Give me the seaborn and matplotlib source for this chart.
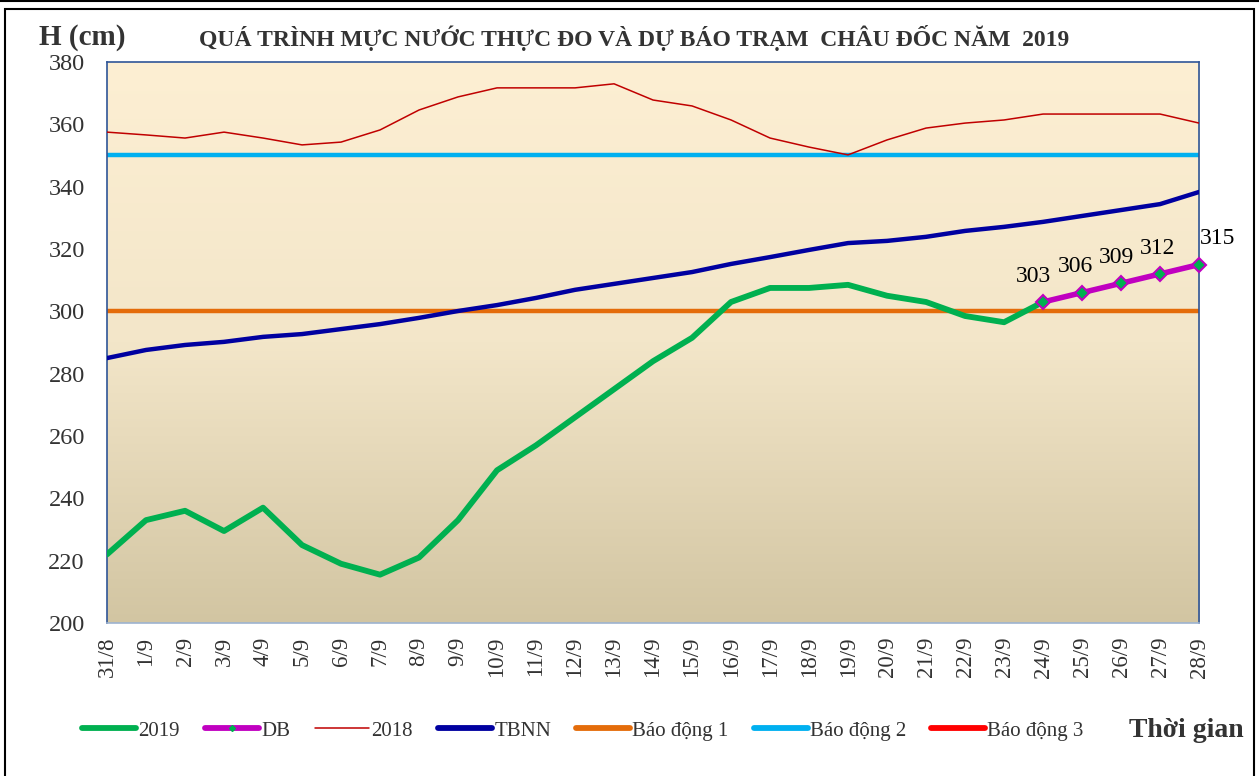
import numpy as np
import pandas as pd
import matplotlib
matplotlib.use('Agg')
import matplotlib.pyplot as plt
from matplotlib.colors import LinearSegmentedColormap
from matplotlib.patches import Rectangle
from matplotlib.lines import Line2D
import seaborn as sns

# data
dates = ['31/8', '1/9', '2/9', '3/9', '4/9', '5/9', '6/9', '7/9', '8/9', '9/9',
         '10/9', '11/9', '12/9', '13/9', '14/9', '15/9', '16/9', '17/9', '18/9', '19/9',
         '20/9', '21/9', '22/9', '23/9', '24/9', '25/9', '26/9', '27/9', '28/9']

h2019 = [222, 233, 236, 229.5, 237, 225, 219, 215.5, 221, 233,
         249, 257, 266, 275, 284, 291.5, 303, 307.5, 307.5, 308.5,
         305, 303, 298.5, 296.5, 303]

h_db = [303, 306, 309, 312, 315]
db_start = 24

h2018 = [357.5, 356.6, 355.6, 357.5, 355.6, 353.4, 354.3, 358.2, 364.6, 368.8,
         371.7, 371.7, 371.7, 373, 367.8, 365.9, 361.4, 355.6, 352.7, 350.2,
         355, 358.8, 360.4, 361.4, 363.3, 363.3, 363.3, 363.3, 360.4]

tbnn = [285, 287.6, 289.2, 290.2, 291.8, 292.7, 294.3, 295.9, 297.9, 300.1,
        302, 304.3, 306.9, 308.8, 310.7, 312.6, 315.2, 317.4, 319.7, 321.9,
        322.6, 323.9, 325.8, 327.1, 328.7, 330.6, 332.5, 334.4, 338.3]

alarm_levels = [300, 350, 400]
alarm_names = ['Báo động 1', 'Báo động 2', 'Báo động 3']

y_ticks = [200, 220, 240, 260, 280, 300, 320, 340, 360, 380]

# colors
c2019 = '#00B050'
c_db = '#C000C0'
c2018 = '#C00000'
c_tbnn = '#0000A0'
c_alarm = ['#E46C0A', '#00B0F0', '#FF0000']
text_col = '#333333'

sns.set_style('white')
plt.rcParams['font.family'] = ['Liberation Serif', 'DejaVu Serif']

fig = plt.figure(figsize=(12.59, 7.76), dpi=100)
ax = fig.add_axes([0.085, 0.1972, 0.8674, 0.7229])

n = len(dates)
x_all = np.arange(n)

# gradient background
grad = LinearSegmentedColormap.from_list('bg', ['#FDEFD3', '#F3E6C9', '#D2C5A2'])
ax.imshow(np.linspace(0, 1, 256).reshape(-1, 1), extent=[0, n - 1, 200, 380],
          aspect='auto', cmap=grad, zorder=0)

# alarm lines
for lvl, col in zip(alarm_levels, c_alarm):
    sns.lineplot(x=x_all, y=[lvl] * n, ax=ax, color=col, linewidth=3.2, zorder=2)

sns.lineplot(x=x_all, y=h2018, ax=ax, color=c2018, linewidth=1.1, zorder=3)
sns.lineplot(x=x_all, y=tbnn, ax=ax, color=c_tbnn, linewidth=3.2, zorder=3,
             solid_joinstyle='round')
sns.lineplot(x=x_all[:len(h2019)], y=h2019, ax=ax, color=c2019, linewidth=4.2,
             zorder=4, solid_joinstyle='round')
x_db = x_all[db_start:db_start + len(h_db)]
sns.lineplot(x=x_db, y=h_db, ax=ax, color=c_db, linewidth=4.0, zorder=5,
             marker='D', markersize=7, markerfacecolor=c2019,
             markeredgecolor=c_db, markeredgewidth=1.5, clip_on=False)

label_dx = [-7, -5, -3, -2, 13]
for xi, v, dx in zip(x_db, h_db, label_dx):
    ax.annotate(f"{v:d}", (xi, v), textcoords='offset points', xytext=(dx, 11),
                ha='center', va='bottom', fontsize=17, color='black')

ax.set_xlim(0, n - 1)
ax.set_ylim(200, 380)
ax.set_yticks(y_ticks)
ax.set_yticklabels([str(t) for t in y_ticks], fontsize=17.5, color=text_col)
ax.set_xticks(x_all)
ax.set_xticklabels(dates, rotation=90, fontsize=16.5, color=text_col)
ax.tick_params(axis='both', length=0)
ax.tick_params(axis='x', pad=10)
ax.tick_params(axis='y', pad=16)
ax.set_xlabel('')
ax.set_ylabel('')

for side in ['left', 'right', 'top']:
    ax.spines[side].set_color('#2F5597')
    ax.spines[side].set_linewidth(1.2)
ax.spines['bottom'].set_color('#9DB3D0')
ax.spines['bottom'].set_linewidth(1.2)

# titles
fig.text(0.031, 0.952, 'H (cm)', fontsize=21, fontweight='bold', color=text_col,
         va='center')
fig.text(0.504, 0.951, 'QUÁ TRÌNH MỰC NƯỚC THỰC ĐO VÀ DỰ BÁO TRẠM  CHÂU ĐỐC NĂM  2019',
         fontsize=17, fontweight='bold', color=text_col, ha='center', va='center')
fig.text(0.897, 0.058, 'Thời gian', fontsize=20, fontweight='bold', color=text_col,
         va='center')

# legend
handles = [
    Line2D([], [], color=c2019, linewidth=4.2, solid_capstyle='round'),
    Line2D([], [], color=c_db, linewidth=4.2, marker='D', markersize=3,
           markerfacecolor=c2019, markeredgecolor=c2019, solid_capstyle='round'),
    Line2D([], [], color=c2018, linewidth=1.1),
    Line2D([], [], color=c_tbnn, linewidth=4.2, solid_capstyle='round'),
]
for col in c_alarm:
    handles.append(Line2D([], [], color=col, linewidth=4.2, solid_capstyle='round'))
labels = ['2019', 'DB', '2018', 'TBNN'] + alarm_names
fig.legend(handles=handles, labels=labels, loc='center', bbox_to_anchor=(0.463, 0.058),
           ncol=7, frameon=False, fontsize=15, handlelength=2.6, handletextpad=0.1,
           columnspacing=1.2, labelcolor=text_col)

# outer frame
fig.patches.append(Rectangle((0.004, -0.01), 0.992, 0.999, transform=fig.transFigure,
                             fill=False, edgecolor='black', linewidth=1.5))
fig.add_artist(Line2D([0, 1], [0.999, 0.999], transform=fig.transFigure,
                      color='black', linewidth=1.5))

fig.savefig('out.png', dpi=100)
